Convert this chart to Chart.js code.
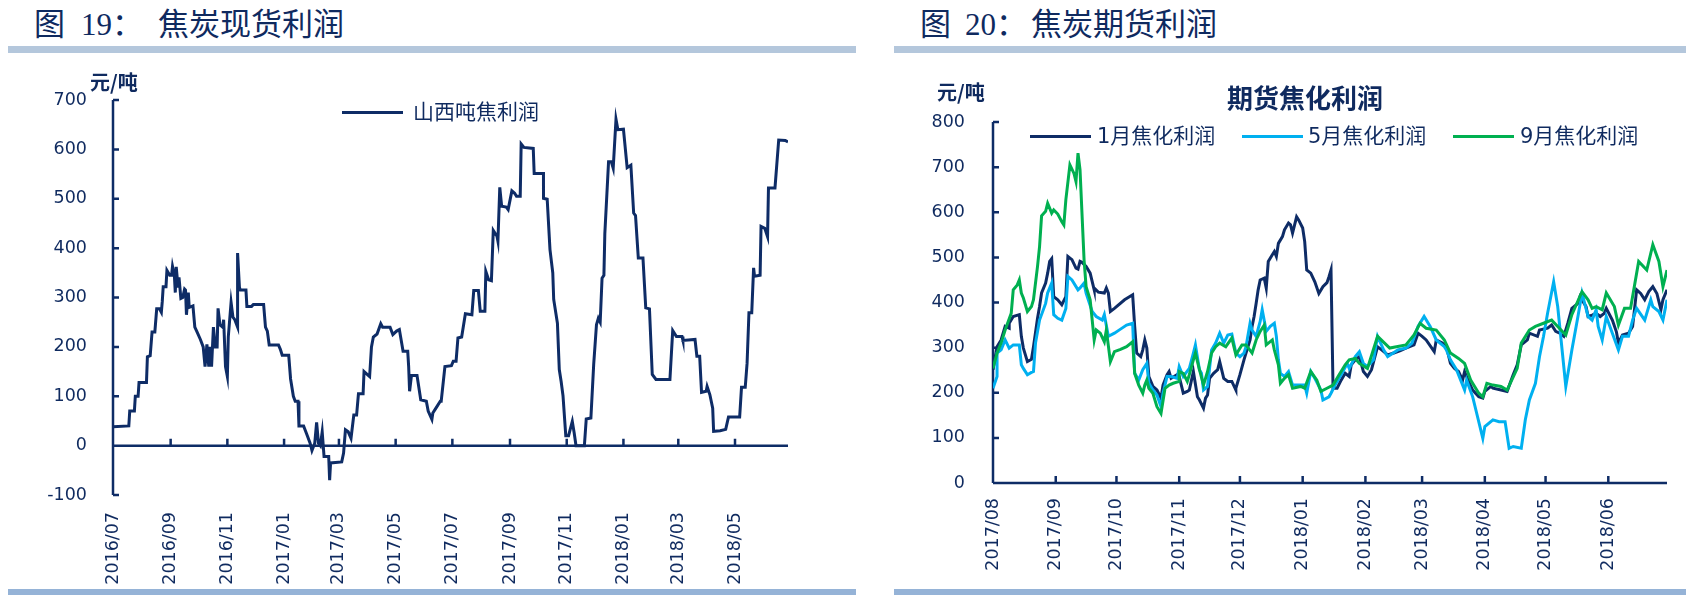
<!DOCTYPE html>
<html lang="zh">
<head>
<meta charset="utf-8">
<title>焦炭现货利润 / 焦炭期货利润</title>
<script src="https://cdn.jsdelivr.net/npm/chart.js@4.4.1/dist/chart.umd.min.js"></script>
<style>
  html, body { margin: 0; padding: 0; background: #fff; }
  body { position: relative; width: 1686px; height: 595px; overflow: hidden;
         font-family: 'Noto Sans CJK SC', sans-serif; color: #0f2a5f; }
  .abs { position: absolute; white-space: nowrap; line-height: 1; z-index: 2; }
  .fig { font-size: 31px; top: 9px; font-family: 'Liberation Serif', 'Noto Sans CJK SC', serif; }
  .bar { position: absolute; height: 7px; top: 46px; background: #b4c7dc; }
  .bar.bottom { background: #95b3d7; height: 6px; top: 589px; }
  canvas { position: absolute; top: 60px; }
  .unit { font-size: 20px; font-weight: bold; }
  .ctitle { font-size: 26px; font-weight: bold; }
  .leg { font-size: 21px; font-family: 'DejaVu Sans', 'Noto Sans CJK SC', sans-serif; }
  .legline { position: absolute; height: 3px; z-index: 2; }
</style>
</head>
<body>
<div class="abs fig" style="left:34px">图</div>
<div class="abs fig" style="left:81px">19：</div>
<div class="abs fig" style="left:158px">焦炭现货利润</div>
<div class="abs fig" style="left:920px">图</div>
<div class="abs fig" style="left:965px">20：</div>
<div class="abs fig" style="left:1031px">焦炭期货利润</div>
<div class="bar" style="left:8px;width:848px"></div>
<div class="bar" style="left:894px;width:792px"></div>
<div class="bar bottom" style="left:8px;width:848px"></div>
<div class="bar bottom" style="left:894px;width:792px"></div>

<div class="abs unit" style="left:90px;top:72px">元/吨</div>
<div class="abs unit" style="left:937px;top:82px">元/吨</div>
<div class="abs ctitle" style="left:1227px;top:84px">期货焦化利润</div>
<div id="legends"></div>

<canvas id="spot" width="860" height="530" style="left:0"></canvas>
<canvas id="futures" width="806" height="530" style="left:880px"></canvas>

<script>
const navy = '#0e2c66';
const textNavy = '#0f2a5f';

// 图19: 山西吨焦利润, x = days since 2016-07-01
const spotName = '山西吨焦利润';
const spotDays = [0,17,18,23,24,27,28,36,37,40, 42,45,47,50,52,53,54,57,58,61,
  63,64,66,67,68,70,71,73,75,77, 78,79,81,82,86,88,90,94,97,99,
  101,103,104,106,108,110,112,113,115,118, 119,121,123,124,127,129,131,134,134,136,
  137,143,144,149,151,162,164,166,168,178, 180,182,189,191,194,196,199,200,205,208,
  212,214,217,219,221,223,225,227,232,233, 234,246,248,250,253,256,259,262,264,269,
  270,276,278,280,284,288,290,298,301,305, 308,312,317,318,319,321,327,331,337,339,
  343,344,347,352,353,357,364,366,369,371, 375,379,386,388,393,395,400,401,404,407,
  409,413,414,416,418,423,425,429,432,434, 438,439,442,452,453,463,463,467,470,473,
  474,478,480,482,484,487,490,494,496,498, 507,509,514,517,520,522,524,526,528,529,
  533,536,538,541,543,549,553,557,560,562, 565,570,573,577,580,584,599,602,606,612,
  613,626,628,631,633,638,639,642,645,646, 653,659,662,674,676,680,682,684,687,689,
  690,696,697,701,704,705,712,716,723,726];
const spotProfit = [38,40,70,70,100,100,128,128,180,182, 230,230,277,277,270,292,322,322,355,345,
  345,363,345,310,362,320,341,298,300,317, 315,265,310,280,283,240,232,215,200,160,
  205,160,200,160,240,200,200,278,245,240, 255,160,140,220,290,260,255,240,390,320,
  315,315,282,282,286,286,240,232,204,204, 195,183,183,135,100,90,90,40,40,25,
  5,-10,5,47,5,0,28,-22,-22,-70, -35,-33,-15,32,28,15,62,62,105,105,
  150,140,200,220,226,247,240,240,225,232, 235,191,191,160,110,142,142,93,90,70,
  53,66,75,90,90,160,162,171,171,218, 220,267,265,314,314,272,272,353,336,334,
  436,424,414,523,485,483,478,516,511,505, 505,611,604,602,551,551,501,499,397,350,
  296,248,154,130,101,20,20,49,26,0, 0,54,56,164,245,258,250,339,345,430,
  575,575,562,661,640,641,563,568,471,466, 380,380,279,277,144,134,134,233,221,221,
  213,215,181,181,108,110,120,103,76,29, 30,33,58,58,118,118,167,269,269,360,
  343,345,444,440,423,522,522,619,618,615];
const spotTickDays = [0,62,123,184,243,304,365,427,488,549,608,669];
const spotTickLabels = ['2016/07','2016/09','2016/11','2017/01','2017/03','2017/05',
  '2017/07','2017/09','2017/11','2018/01','2018/03','2018/05'];

// 图20: 期货焦化利润, x = days since 2017-08-01
const futNames = ['1月焦化利润', '5月焦化利润', '9月焦化利润'];
const futColors = [navy, '#00b0f0', '#00b050'];
const janDays = [0,2,4,6,8,8,10,13,14,15, 17,19,20,22,23,24,26,27,28,29,
  30,32,34,36,37,39,41,42,43,44, 46,48,50,50,52,55,56,57,58,60,
  65,69,70,71,73,74,75,76,77,79, 81,83,84,86,87,88,91,92,94,96,
  97,99,101,102,104,105,106,107,109,111, 112,114,116,118,120,120,122,124,125,127,
  128,129,130,131,132,134,135,136,138,139, 140,141,143,144,146,147,148,150,151,153,
  154,155,157,159,161,163,165,166,167,168, 170,172,174,176,177,179,181,183,185,187,
  190,192,195,198,201,204,208,210,212,214, 218,219,222,224,226,228,230,232,233,235,
  237,240,242,243,246,247,251,254,257,259, 261,264,265,269,270,274,276,278,280,282,
  284,286,289,290,293,294,296,298,300,302, 303,306,308,309,311,314,316,317,318,320,
  322,324,326,328,330,331,333];
const janProfit = [251,302,317,347,343,354,369,373,325,299, 269,274,302,365,391,421,443,465,491,497,
  413,406,395,413,502,495,476,474,491,489, 480,465,428,432,423,421,432,421,380,387,
  406,417,347,288,280,295,317,299,236,214, 206,188,217,240,247,232,240,236,199,203,
  206,247,191,184,166,188,195,232,243,251, 269,232,225,225,206,210,240,273,288,317,
  347,369,398,428,450,454,432,491,506,513, 502,531,546,561,576,572,554,590,583,565,
  535,472,465,446,420,435,444,457,472,210, 210,228,243,236,262,273,280,247,236,251,
  302,295,284,288,293,299,306,332,325,317, 291,317,310,302,265,254,247,228,247,225,
  206,191,188,203,214,210,206,203,240,262, 306,317,332,325,339,343,350,336,332,325,
  354,387,398,413,391,369,372,376,369,376, 387,361,335,310,328,332,347,387,428,420,
  406,424,435,420,384,406,428];
const mayDays = [0,2,2,4,6,8,10,13,14,15, 17,19,20,21,23,26,27,29,30,32,
  34,36,37,39,42,43,45,46,49,51, 54,55,57,60,63,66,69,70,72,74,
  76,77,79,81,83,84,86,88,91,92, 94,97,99,100,102,103,104,106,108,110,
  112,114,116,118,120,122,124,125,127,128, 130,132,133,135,137,139,140,141,142,144,
  146,148,152,154,155,157,159,162,163,166, 167,169,172,175,176,179,181,183,185,188,
  190,193,195,200,204,207,210,213,216,219, 223,224,226,229,233,234,237,239,242,243,
  247,250,253,255,257,261,263,265,268,270, 272,274,277,279,283,286,289,291,294,296,
  298,299,301,303,306,309,311,314,316,318, 322,325,326,329,331,333];
const mayProfit = [210,236,288,295,317,299,306,306,262,254, 240,245,247,310,361,398,421,443,373,365,
  361,387,458,450,428,432,443,421,380,369, 361,373,325,332,341,350,354,243,228,251,
  265,221,206,195,169,199,236,236,232,258, 236,254,288,306,251,243,206,214,295,310,
  332,310,328,330,288,280,288,302,354,339, 325,358,384,336,347,354,325,273,243,236,
  247,217,217,217,199,247,232,206,184,191, 199,217,240,265,254,280,291,265,258,273,
  325,295,280,295,299,310,347,369,347,317, 302,295,273,251,206,228,191,154,99,125,
  140,136,136,77,81,77,140,184,221,280, 325,376,446,391,214,295,369,421,369,361,
  384,347,317,369,332,295,325,325,361,387, 361,406,391,380,361,406];
const sepDays = [0,2,4,6,9,10,12,13,14,15, 17,19,20,22,23,24,26,27,29,30,
  32,34,35,36,38,40,41,42,43,45, 46,48,50,51,53,55,56,58,60,63,
  66,69,70,72,74,75,76,77,79,81, 83,85,87,89,92,92,94,96,97,99,
  100,102,104,106,108,110,112,115,118,120, 123,125,128,130,132,134,135,138,139,141,
  142,144,146,148,152,154,157,160,162,165, 168,171,174,176,179,181,185,190,196,204,
  208,211,214,219,223,226,230,233,236,240, 242,244,247,251,254,259,261,265,268,272,
  276,279,283,286,291,294,296,298,301,303, 307,309,312,315,319,323,326,329,331,333];
const sepProfit = [254,288,310,339,376,428,439,450,421,410, 380,391,406,480,524,592,602,620,598,605,
  596,579,572,628,705,686,668,731,694,494, 435,406,317,339,332,313,339,269,291,296,
  302,313,243,217,199,217,228,210,199,169, 154,210,217,221,225,247,243,225,240,273,
  288,251,217,247,288,302,310,302,321,284, 306,306,288,317,336,350,306,317,295,262,
  221,232,240,210,214,210,247,228,203,210, 217,240,262,273,276,265,254,325,299,306,
  328,354,343,339,317,288,276,265,228,199, 191,221,217,214,206,254,310,339,347,354,
  361,347,328,373,424,406,387,391,384,421, 391,350,387,387,491,472,528,491,435,472];
const futTickDays = [0,31,61,92,122,153,184,212,243,273,304];
const futTickLabels = ['2017/08','2017/09','2017/10','2017/11','2017/12','2018/01',
  '2018/02','2018/03','2018/04','2018/05','2018/06'];

const toPoints = (days, vals) => days.map((d, i) => ({ x: d, y: vals[i] }));

Chart.defaults.font.family = "'DejaVu Sans', sans-serif";
Chart.defaults.color = textNavy;

// axis lines with short inward ticks, x axis sits at value 0
const axisLines = {
  id: 'axisLines',
  beforeDatasetsDraw(chart) {
    const { ctx, chartArea: a, scales: { x, y } } = chart;
    const y0 = y.getPixelForValue(0);
    ctx.save();
    ctx.strokeStyle = navy;
    ctx.lineWidth = 2.5;
    ctx.beginPath();
    ctx.moveTo(a.left, a.top);
    ctx.lineTo(a.left, a.bottom);
    y.ticks.forEach(t => {
      const p = y.getPixelForValue(t.value);
      ctx.moveTo(a.left, p);
      ctx.lineTo(a.left + 6, p);
    });
    ctx.moveTo(a.left, y0);
    ctx.lineTo(a.right, y0);
    x.ticks.forEach(t => {
      const p = x.getPixelForValue(t.value);
      ctx.moveTo(p, y0);
      ctx.lineTo(p, y0 - 7);
    });
    ctx.stroke();
    ctx.restore();
  }
};

function makeChart(id, datasets, o) {
  return new Chart(document.getElementById(id), {
    type: 'line',
    data: { datasets },
    options: {
      responsive: false,
      animation: false,
      layout: { padding: o.padding },
      plugins: { legend: { display: false }, tooltip: { enabled: false } },
      elements: { point: { radius: 0 }, line: { borderWidth: 3, tension: 0 } },
      scales: {
        x: {
          type: 'linear', min: 0, max: o.xMax,
          grid: { display: false, drawTicks: false }, border: { display: false },
          afterBuildTicks: s => { s.ticks = o.tickDays.map(v => ({ value: v })); },
          afterFit: s => { s.height = o.xHeight; },
          ticks: { autoSkip: false, minRotation: 90, maxRotation: 90, padding: o.xPad,
                   font: { size: 17.5 }, callback: (v, i) => o.tickLabels[i] }
        },
        y: {
          min: o.yMin, max: o.yMax,
          grid: { display: false, drawTicks: false }, border: { display: false },
          afterFit: s => { s.width = 113; },
          ticks: { stepSize: 100, padding: o.yPad, font: { size: 17.5 } }
        }
      }
    },
    plugins: [axisLines]
  });
}

makeChart('spot', [{
  label: spotName, data: toPoints(spotDays, spotProfit),
  borderColor: navy, backgroundColor: navy
}], {
  padding: { left: 0, top: 40, right: 72, bottom: 0 },
  xMax: 726, xHeight: 95, xPad: 17, yPad: 26, yMin: -100, yMax: 700,
  tickDays: spotTickDays, tickLabels: spotTickLabels
});

const futData = [[janDays, janProfit], [mayDays, mayProfit], [sepDays, sepProfit]];
makeChart('futures', futData.map((s, i) => ({
  label: futNames[i], data: toPoints(s[0], s[1]),
  borderColor: futColors[i], backgroundColor: futColors[i], order: 3 - i
})), {
  padding: { left: 0, top: 62, right: 19, bottom: 0 },
  xMax: 333, xHeight: 107, xPad: 15, yPad: 28, yMin: 0, yMax: 800,
  tickDays: futTickDays, tickLabels: futTickLabels
});

// legends
const legendItems = [
  { name: spotName, color: navy, line: 342, text: 413, y: 112 },
  { name: futNames[0], color: futColors[0], line: 1030, text: 1097, y: 136 },
  { name: futNames[1], color: futColors[1], line: 1242, text: 1308, y: 136 },
  { name: futNames[2], color: futColors[2], line: 1453, text: 1520, y: 136 }
];
const legBox = document.getElementById('legends');
legendItems.forEach(it => {
  const ln = document.createElement('div');
  ln.className = 'legline';
  ln.style.cssText = `left:${it.line}px;top:${it.y - 1.5}px;width:61px;background:${it.color}`;
  legBox.appendChild(ln);
  const tx = document.createElement('div');
  tx.className = 'abs leg';
  tx.style.cssText = `left:${it.text}px;top:${it.y - 10}px`;
  tx.textContent = it.name;
  legBox.appendChild(tx);
});
</script>
</body>
</html>
